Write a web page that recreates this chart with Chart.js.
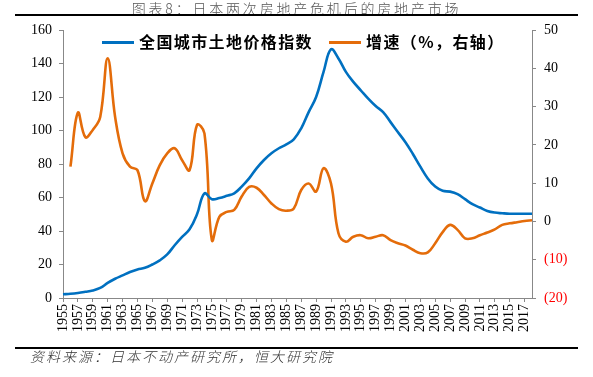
<!DOCTYPE html>
<html>
<head>
<meta charset="utf-8">
<script src="https://cdn.jsdelivr.net/npm/chart.js@4/dist/chart.umd.min.js"></script>
<style>
  html, body { margin: 0; padding: 0; background: #fff; }
  #wrap { position: relative; width: 593px; height: 377px; overflow: hidden; }
  #c { position: absolute; left: 0; top: 0; }
  #title { position: absolute; left: 0; width: 593px; top: -2px; text-align: center;
    font: 300 14px "Noto Sans CJK SC", sans-serif; letter-spacing: 2.8px; color: #555; }
  .rule { position: absolute; left: 15px; width: 563px; height: 2px; background: #000; }
  #footer { position: absolute; left: 30px; top: 346px;
    font: italic 300 14px "Noto Sans CJK SC", sans-serif; letter-spacing: 2px; color: #333; }
  #legend { position: absolute; top: 30px; left: 0; height: 22px; width: 593px;
    font: bold 16px "Noto Sans CJK SC", sans-serif; letter-spacing: 1.4px; color: #000; }
  .li { position: absolute; top: 0; white-space: nowrap; line-height: 22px; }
  .sw { display: inline-block; width: 32px; height: 3px; vertical-align: middle; margin-right: 5px; position: relative; top: -1px; }
</style>
</head>
<body>
<div id="wrap">
  <canvas id="c" width="593" height="377"></canvas>
  <div id="title">图表8：日本两次房地产危机后的房地产市场</div>
  <div class="rule" style="top:14px"></div>
  <div id="legend"></div>
  <div class="rule" style="top:347px"></div>
  <div id="footer">资料来源：日本不动产研究所，恒大研究院</div>
</div>
<script>
const years = [];
for (let y = 1955; y <= 2018; y++) years.push(String(y));

const seriesNames = ['全国城市土地价格指数', '增速（%，右轴）'];

const landIndex = [
  2.2, 2.5, 3.0, 3.7, 4.5, 6.0, 9.0, 11.5, 13.5, 15.5,
  17.0, 18.0, 20.0, 22.5, 26.0, 31.5, 36.5, 41.0, 50.0, 62.5,
  59.0, 59.7, 61.0, 62.5, 66.5, 71.4, 77.4, 82.4, 86.4, 89.4,
  91.7, 94.7, 101.3, 111.0, 120.0, 135.0, 148.5, 143.0, 135.0, 129.0,
  124.0, 119.0, 114.6, 111.0, 105.0, 99.0, 93.0, 86.0, 78.4, 71.4,
  66.5, 64.0, 63.5, 62.0, 59.0, 56.0, 54.0, 52.0, 51.0, 50.6,
  50.3, 50.3, 50.3, 50.3
];

const growth = [
  null, 14.3, 28.4, 22.0, 23.9, 27.3, 42.6, 27.3, 17.8, 14.3,
  13.4, 5.3, 9.9, 14.7, 17.8, 19.1, 16.0, 13.4, 25.2, 23.0,
  -4.9, 1.2, 2.5, 3.0, 6.5, 9.0, 8.8, 6.9, 4.7, 3.2,
  2.8, 3.4, 8.2, 9.9, 7.8, 13.9, 9.9, -3.1, -5.3, -4.0,
  -3.6, -4.4, -4.0, -3.6, -4.9, -5.7, -6.3, -7.4, -8.3, -8.1,
  -5.7, -2.8, -0.9, -2.2, -4.4, -4.4, -3.6, -2.9, -2.1, -0.9,
  -0.5, -0.2, 0.1, 0.3
];

const colors = ['#0070C0', '#E46C0A'];

// HTML legend
const leg = document.getElementById('legend');
const legPos = [102, 329];
seriesNames.forEach((n, i) => {
  const d = document.createElement('div');
  d.className = 'li';
  d.style.left = legPos[i] + 'px';
  d.innerHTML = '<span class="sw" style="background:' + colors[i] + '"></span>' + n;
  leg.appendChild(d);
});

const serif = "'Liberation Serif', 'Times New Roman', serif";
const axisGrey = '#888888';

new Chart(document.getElementById('c'), {
  type: 'line',
  data: {
    labels: years,
    datasets: [
      { label: seriesNames[0], data: landIndex, yAxisID: 'y', borderColor: colors[0],
        backgroundColor: colors[0], borderWidth: 2.6, pointRadius: 0, tension: 0.4, fill: false },
      { label: seriesNames[1], data: growth, yAxisID: 'y1', borderColor: colors[1],
        backgroundColor: colors[1], borderWidth: 2.6, pointRadius: 0, tension: 0.4, fill: false }
    ]
  },
  options: {
    responsive: false,
    animation: false,
    devicePixelRatio: 1,
    layout: { padding: { top: 30, left: 0, right: 0, bottom: 0 } },
    plugins: { legend: { display: false }, title: { display: false }, tooltip: { enabled: false } },
    scales: {
      x: {
        offset: false,
        border: { display: true, color: axisGrey, width: 1 },
        grid: { drawOnChartArea: false, drawTicks: true, tickLength: 4,
          tickColor: (ctx) => (ctx.index % 2 === 0 ? axisGrey : 'rgba(0,0,0,0)') },
        ticks: { autoSkip: false, minRotation: 90, maxRotation: 90, padding: 2,
          color: '#000', font: { family: serif, size: 14 },
          callback: function (v, i) { return i % 2 === 0 ? this.getLabelForValue(v) : ''; } },
        afterFit: (s) => { s.height = 79; }
      },
      y: {
        position: 'left', min: 0, max: 160,
        border: { display: true, color: axisGrey, width: 1 },
        grid: { drawOnChartArea: false, drawTicks: true, tickLength: 4, tickColor: axisGrey },
        ticks: { stepSize: 20, padding: 7, color: '#000', font: { family: serif, size: 14 } },
        afterFit: (s) => { s.width = 63; }
      },
      y1: {
        position: 'right', min: -20, max: 50,
        border: { display: true, color: axisGrey, width: 1 },
        grid: { drawOnChartArea: false, drawTicks: true, tickLength: 4, tickColor: axisGrey },
        ticks: { stepSize: 10, padding: 8, font: { family: serif, size: 14 },
          color: (ctx) => (ctx.tick && ctx.tick.value < 0 ? '#FF0000' : '#000'),
          callback: (v) => (v < 0 ? '(' + Math.abs(v) + ')' : String(v)) },
        afterFit: (s) => { s.width = 61; }
      }
    }
  }
});
</script>
</body>
</html>
